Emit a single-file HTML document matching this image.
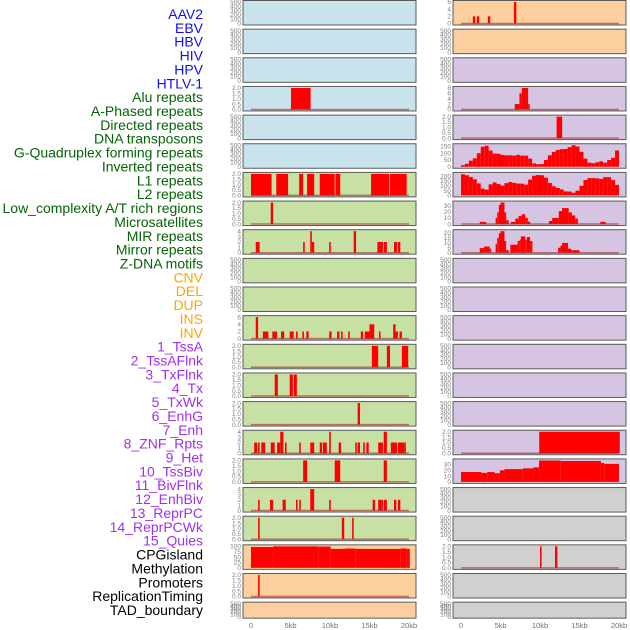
<!DOCTYPE html>
<html><head><meta charset="utf-8"><style>
html,body{margin:0;padding:0;background:#fff;}
svg{display:block;font-family:"Liberation Sans",sans-serif;}
</style></head><body>
<svg id="chart" width="630" height="630" viewBox="0 0 630 630" xmlns="http://www.w3.org/2000/svg"></svg>
<script>
const rowLabels = ["AAV2","EBV","HBV","HIV","HPV","HTLV-1","Alu repeats","A-Phased repeats","Directed repeats","DNA transposons","G-Quadruplex forming repeats","Inverted repeats","L1 repeats","L2 repeats","Low_complexity A/T rich regions","Microsatellites","MIR repeats","Mirror repeats","Z-DNA motifs","CNV","DEL","DUP","INS","INV","1_TssA","2_TssAFlnk","3_TxFlnk","4_Tx","5_TxWk","6_EnhG","7_Enh","8_ZNF_Rpts","9_Het","10_TssBiv","11_BivFlnk","12_EnhBiv","13_ReprPC","14_ReprPCWk","15_Quies","CPGisland","Methylation","Promoters","ReplicationTiming","TAD_boundary"];
const labelGroups = ["v","v","v","v","v","v","r","r","r","r","r","r","r","r","r","r","r","r","r","s","s","s","s","s","c","c","c","c","c","c","c","c","c","c","c","c","c","c","c","o","o","o","o","o"];
const xTickKb = [0,5,10,15,20];
const xTickLabels = ["0","5kb","10kb","15kb","20kb"];
const T500 = [0,100,200,300,400,500];
const T2 = [0,0.5,1,1.5,2];
const T4 = [0,1,2,3,4];
const T6 = [0,2,4,6];
const T8 = [0,2,4,6,8];
const T30 = [0,10,20,30];
const T20 = [0,5,10,15,20];
const T150 = [0,50,100,150];
const T200 = [0,50,100,150,200];
const T100 = [0,25,50,75,100];
// segments: [startKb, endKb, value]
const L3 = [[5.06,7.55,2]];
const L6 = [[0,2.6,2],[3.2,4.7,2],[6.1,6.6,2],[7.1,8.0,2],[8.7,10.6,2],[10.7,11.3,2],[15.2,17.5,2],[17.6,19.7,2]];
const L7 = [[2.5,2.8,2]];
const L8 = [[0.6,1.1,2],[6.6,6.8,2],[7.5,7.7,4],[7.7,8.0,2],[9.9,10.1,2],[13.0,13.3,4],[16.0,16.7,2],[16.8,17.2,2],[18.1,18.5,2],[18.6,18.9,2]];
const L11 = [[0.6,0.9,6],[1.5,2.2,2],[2.7,3.3,2],[3.8,4.2,2],[4.9,5.4,2],[5.7,5.9,2],[6.5,6.7,2],[7.0,7.3,2],[9.9,10.2,2],[10.9,11.2,2],[11.4,11.6,2],[12.3,12.5,2],[13.9,14.2,2],[14.4,15.0,2],[15.0,15.6,4],[16.2,16.4,2],[18.0,18.3,4],[18.3,18.6,2],[18.8,19.1,2]];
const L12 = [[15.3,16.1,2],[17.2,17.6,2],[19.1,19.9,2]];
const L13 = [[3.0,3.4,2],[4.9,5.3,2],[5.4,5.8,2]];
const L14 = [[13.5,13.8,2]];
const L15 = [[0.4,0.8,2],[0.9,1.1,2],[1.3,1.8,2],[2.5,3.0,2],[3.3,3.7,2],[3.7,4.1,4],[4.3,4.5,2],[6.1,6.3,2],[7.5,8.0,2],[8.7,9.0,2],[9.1,9.6,2],[9.9,10.1,4],[11.1,11.4,2],[13.2,13.4,2],[13.5,13.8,2],[14.2,14.4,2],[14.6,14.9,2],[16.1,16.7,2],[16.8,17.2,4],[17.7,18.5,2],[18.6,19.4,2],[19.4,19.6,2]];
const L16 = [[6.6,7.1,2],[10.6,11.3,2],[16.8,17.2,2]];
const L17 = [[0.9,1.1,2],[2.4,2.8,2],[4.0,4.4,2],[5.7,5.9,2],[6.1,6.3,2],[7.5,8.0,4],[9.9,10.1,2],[15.4,15.7,2],[16.1,16.5,2],[16.5,16.7,2],[16.8,17.2,2],[18.1,18.4,2],[18.6,18.9,2]];
const L18 = [[0.9,1.1,2],[11.5,11.8,2],[12.8,13.0,2]];
const L19 = [[0,2.8,97],[2.8,8.5,100],[8.5,10.1,99],[10.1,11.9,88],[11.9,13.2,90],[13.2,18.9,88],[18.9,19.7,90],[19.7,20.1,88]];
const L20 = [[0.9,1.1,2]];
const R0 = [[1.5,1.8,2],[2.0,2.3,2],[3.4,3.7,2],[6.7,7.0,6]];
const R3 = [[6.8,7.4,2],[7.4,7.7,6],[7.7,8.5,8],[8.5,8.7,2]];
const R4 = [[12.1,12.8,2]];
// 0.5 kb bins
const R5bins = [12,22,45,62,100,148,155,120,98,96,88,84,84,82,88,82,82,60,25,19,20,50,85,110,124,130,132,145,159,150,110,60,30,26,33,40,30,50,66,120];
const R6bins = [220,210,192,168,125,70,60,115,135,118,102,128,140,130,123,122,112,165,205,212,210,185,130,95,78,62,42,40,28,50,100,160,180,180,178,172,190,190,160,110];
const R7 = [[2.38,3.21,3.5],[4.38,4.58,10],[4.58,4.79,19],[4.79,5.0,31],[5.0,5.5,35],[5.5,5.71,19],[5.71,6.04,6],[6.33,6.88,3.5],[6.88,7.29,9],[7.29,7.71,13],[7.71,8.13,16],[8.13,8.46,10],[8.46,8.75,4],[11.13,11.54,5],[11.54,12.38,10],[12.38,12.79,21],[12.79,13.63,26],[13.63,14.04,19],[14.04,14.46,14],[14.46,14.79,9],[17.63,18.33,3.5]];
const R8 = [[2.38,2.92,4.6],[2.92,3.63,6.2],[3.63,3.83,4],[4.38,4.58,8.6],[4.58,4.79,14.8],[4.79,5.0,19.4],[5.0,5.5,21.5],[5.5,5.71,11.7],[5.71,6.04,2.5],[6.25,7.17,8],[7.17,7.42,11.7],[7.42,7.58,13.2],[7.58,8.13,16.3],[8.13,8.33,13],[8.33,8.75,15.7],[8.75,9.04,11.7],[12.29,12.58,5],[12.58,12.79,7],[12.79,13.54,9.8],[13.54,13.96,4],[13.96,15.0,2.5]];
const R15 = [[9.9,20.1,2]];
const R16 = [[0,2.58,17],[2.58,3.33,15.5],[3.33,4.25,17],[4.25,4.92,15],[4.92,5.5,20],[5.5,7.83,22],[7.83,9.17,23.3],[9.17,9.88,25],[9.88,12.63,36.8],[12.63,17.71,36],[17.71,18.13,32.6],[18.13,20,31]];
const R19 = [[10.0,10.2,2],[11.9,12.2,2]];

function binsToSegs(b){ return b.map((v,i)=>[i*0.5,(i+1)*0.5,v]); }

const BLUE="#c9e3ec", GREEN="#c7e0a4", ORANGE="#fecf9e", LAV="#d5c5e2", GREY="#d0d0d0";
// [bg, ticks, ymax, segs, baseline]
const leftPanels = [
 [BLUE,T500,500,[],0],[BLUE,T500,500,[],0],[BLUE,T500,500,[],0],[BLUE,T2,2,L3,1],[BLUE,T500,500,[],0],[BLUE,T500,500,[],0],
 [GREEN,T2,2,L6,1],[GREEN,T2,2,L7,1],[GREEN,T4,4,L8,1],[GREEN,T500,500,[],0],[GREEN,T500,500,[],0],[GREEN,T6,6,L11,1],
 [GREEN,T2,2,L12,1],[GREEN,T2,2,L13,1],[GREEN,T2,2,L14,1],[GREEN,T4,4,L15,1],[GREEN,T2,2,L16,1],[GREEN,T4,4,L17,1],[GREEN,T2,2,L18,1],
 [ORANGE,T100,100,L19,0],[ORANGE,T2,2,L20,1],[ORANGE,T500,500,[],0]
];
const rightPanels = [
 [ORANGE,T6,6,R0,1],[ORANGE,T500,500,[],0],[LAV,T500,500,[],0],[LAV,T8,8,R3,1],[LAV,T2,2,R4,1],[LAV,T150,159,binsToSegs(R5bins),0],
 [LAV,T200,224,binsToSegs(R6bins),0],[LAV,T30,35,R7,1],[LAV,T20,21.5,R8,1],[LAV,T500,500,[],0],[LAV,T500,500,[],0],[LAV,T500,500,[],0],
 [LAV,T500,500,[],0],[LAV,T500,500,[],0],[LAV,T500,500,[],0],[LAV,T2,2,R15,1],[LAV,T30,37,R16,0],
 [GREY,T500,500,[],0],[GREY,T500,500,[],0],[GREY,T2,2,R19,1],[GREY,T500,500,[],0],[GREY,T500,500,[],0]
];

const NS="http://www.w3.org/2000/svg";
const svg=document.getElementById("chart");
function mk(tag,attrs,parent){const e=document.createElementNS(NS,tag);for(const k in attrs)e.setAttribute(k,attrs[k]);(parent||svg).appendChild(e);return e;}
const groupColor={v:"#1010ee",r:"#056405",s:"#ffa500",c:"#a030f0",o:"#000000"};
const KB=7.9;

rowLabels.forEach((t,i)=>{
  const e=mk("text",{x:203,y:19+13.86*i,"text-anchor":"end","font-size":"14",fill:groupColor[labelGroups[i]]});
  e.textContent=t;
  
  
});

function drawPanel(p,i,side){
  const [bg,ticks,ymax,segs,base]=p;
  const left= side==="left"?243:453;
  const x0 = side==="left"?251:461;
  const top=0.5+28.65*i;
  const h = i===21?16:24.5;
  const g=mk("g",{});
  
  
  mk("rect",{x:left,y:top,width:173,height:h,fill:bg,stroke:"#5a5a5a","stroke-width":"1"},g);
  const y=v=>top+h-1.5-(v/ymax)*(h-3);
  const xs=kb=>x0+kb*KB;
  ticks.forEach(t=>{
    const tx=mk("text",{x:left-2,y:y(t)+2.2,"text-anchor":"end","font-size":"6.5",fill:"#808080"},g);
    tx.textContent = (ticks===T2)? t.toFixed(1) : String(t);
    
    
  });
  segs.forEach(s=>{
    const r=mk("rect",{x:xs(s[0]),y:y(s[2]),width:Math.max(0.8,xs(s[1])-xs(s[0])),height:y(0)-y(s[2]),fill:"#ff0000"},g);
    
    
  });
  if(base){
    const l=mk("line",{x1:xs(0),x2:xs(20),y1:y(0),y2:y(0),stroke:"rgba(170,40,40,0.6)","stroke-width":"1.5"},g);
    
    
  }
}
leftPanels.forEach((p,i)=>drawPanel(p,i,"left"));
rightPanels.forEach((p,i)=>drawPanel(p,i,"right"));

["left","right"].forEach(side=>{
  const x0= side==="left"?251:461;
  xTickKb.forEach((kb,j)=>{
    const t=mk("text",{x:x0+kb*KB,y:628,"text-anchor":"middle","font-size":"7.5",fill:"#707070"});
    t.textContent=xTickLabels[j];
    
    
  });
});
</script>
</body></html>
